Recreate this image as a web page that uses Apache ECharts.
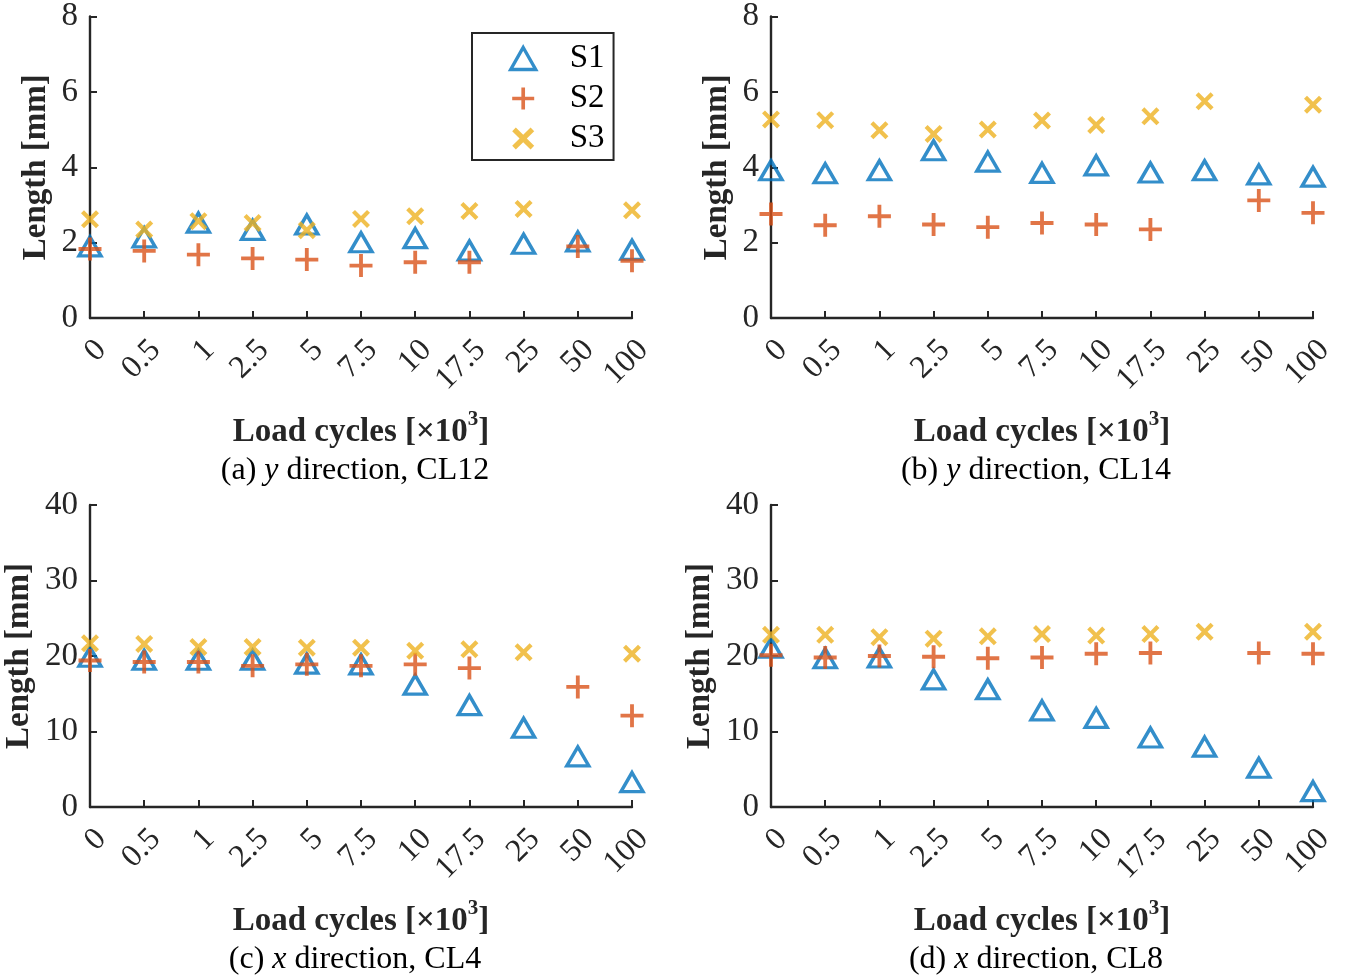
<!DOCTYPE html>
<html>
<head>
<meta charset="utf-8">
<title>Crack length vs load cycles</title>
<script src="https://cdn.jsdelivr.net/npm/echarts@6/dist/echarts.min.js"></script>
<style>
  html, body { margin: 0; padding: 0; background: #fff; }
  #chart { width: 1354px; height: 980px; }
</style>
</head>
<body>
<div id="chart"></div>
<script>
// Load cycles (×10^3) shared by all four panels
const cycles = ['0', '0.5', '1', '2.5', '5', '7.5', '10', '17.5', '25', '50', '100'];

// (a) y direction, CL12
const a_S1 = [1.9, 2.14, 2.53, 2.34, 2.48, 2.01, 2.12, 1.79, 1.97, 2.03, 1.81];
const a_S2 = [1.83, 1.78, 1.68, 1.58, 1.55, 1.39, 1.48, 1.48, null, 1.9, 1.52];
const a_S3 = [2.62, 2.35, 2.57, 2.52, 2.33, 2.63, 2.7, 2.84, 2.89, null, 2.86];

// (b) y direction, CL14
const b_S1 = [3.92, 3.84, 3.92, 4.45, 4.15, 3.85, 4.05, 3.86, 3.92, 3.81, 3.75];
const b_S2 = [2.76, 2.46, 2.7, 2.48, 2.41, 2.52, 2.48, 2.35, null, 3.12, 2.79];
const b_S3 = [5.27, 5.25, 4.98, 4.88, 5.0, 5.24, 5.12, 5.35, 5.75, null, 5.66];

// (c) x direction, CL4
const c_S1 = [19.9, 19.5, 19.5, 19.5, 19.0, 18.9, 16.2, 13.5, 10.5, 6.7, 3.3];
const c_S2 = [19.4, 19.2, 19.2, 18.7, 18.9, 18.7, 18.9, 18.4, null, 15.9, 12.1];
const c_S3 = [21.7, 21.6, 21.2, 21.2, 21.1, 21.1, 20.7, 20.9, 20.5, null, 20.3];

// (d) x direction, CL8
const d_S1 = [21.1, 19.7, 19.8, 16.9, 15.6, 12.8, 11.8, 9.2, 8.0, 5.2, 2.1];
const d_S2 = [20.1, 19.8, 20.0, 19.9, 19.7, 19.8, 20.3, 20.4, null, 20.4, 20.3];
const d_S3 = [22.8, 22.8, 22.5, 22.3, 22.6, 22.9, 22.7, 22.9, 23.2, null, 23.2];

const seriesNames = ['S1', 'S2', 'S3'];
const panelTitles = [
  ['(a) ', 'y', ' direction, CL12'],
  ['(b) ', 'y', ' direction, CL14'],
  ['(c) ', 'x', ' direction, CL4'],
  ['(d) ', 'x', ' direction, CL8']
];
const yRanges = [[0, 8, 2], [0, 8, 2], [0, 40, 10], [0, 40, 10]];

const panelData = [
  [a_S1, a_S2, a_S3],
  [b_S1, b_S2, b_S3],
  [c_S1, c_S2, c_S3],
  [d_S1, d_S2, d_S3]
];

const FONT = '"Liberation Serif", "Times New Roman", serif';
const INK = '#262626';
const COLORS = ['#0072BD', '#D95319', '#EDB120'];

// Marker outlines: plus and cross drawn as filled strokes
const PLUS = 'path://M10,0H14V10H24V14H14V24H10V14H0V10H10Z';
const CROSS = 'path://M0,3.3L3.3,0L10,6.7L16.7,0L20,3.3L13.3,10L20,16.7L16.7,20L10,13.3L3.3,20L0,16.7L6.7,10Z';

const markerStyles = [
  { symbol: 'triangle', symbolSize: [22, 19],
    itemStyle: { color: 'rgba(255,255,255,0)', borderColor: COLORS[0], borderWidth: 3.4 } },
  { symbol: PLUS, symbolSize: 23, itemStyle: { color: COLORS[1] } },
  { symbol: CROSS, symbolSize: 18, itemStyle: { color: COLORS[2] } }
];

const grids = [
  { left: 90, top: 15, width: 542, height: 303 },
  { left: 771, top: 15, width: 542, height: 303 },
  { left: 90, top: 505, width: 542, height: 302 },
  { left: 771, top: 505, width: 542, height: 302 }
];

const xAxes = grids.map((g, i) => ({
  type: 'category',
  gridIndex: i,
  data: cycles,
  boundaryGap: false,
  name: '{b|Load cycles [×10}{s|3}{b|]}',
  nameLocation: 'middle',
  nameGap: 91,
  nameTextStyle: {
    rich: {
      b: { fontFamily: FONT, fontWeight: 'bold', fontSize: 33, color: INK, lineHeight: 46 },
      s: { fontFamily: FONT, fontWeight: 'bold', fontSize: 21, color: INK, lineHeight: 20, verticalAlign: 'top' }
    }
  },
  axisLine: { lineStyle: { color: INK, width: 2.4 } },
  axisTick: { inside: true, length: 7, alignWithLabel: true, lineStyle: { color: INK, width: 2 } },
  axisLabel: {
    rotate: 45, margin: 16, interval: 0, verticalAlign: 'top',
    fontFamily: FONT, fontSize: 32, color: INK
  },
  splitLine: { show: false }
}));

const yAxes = grids.map((g, i) => ({
  type: 'value',
  gridIndex: i,
  min: yRanges[i][0], max: yRanges[i][1], interval: yRanges[i][2],
  name: 'Length [mm]',
  nameLocation: 'middle',
  nameRotate: 90,
  nameGap: i < 2 ? 37 : 54,
  nameTextStyle: { fontFamily: FONT, fontWeight: 'bold', fontSize: 33, color: INK },
  axisLine: { show: true, lineStyle: { color: INK, width: 2.4 } },
  axisTick: { show: true, inside: true, length: 7, lineStyle: { color: INK, width: 2 } },
  axisLabel: { margin: 12, fontFamily: FONT, fontSize: 33, color: INK },
  splitLine: { show: false }
}));

const series = [];
panelData.forEach((sets, p) => {
  sets.forEach((vals, k) => {
    series.push(Object.assign({
      type: 'scatter',
      name: seriesNames[k],
      xAxisIndex: p,
      yAxisIndex: p,
      data: vals,
      z: 3 + k,
      emphasis: { disabled: true }
    }, markerStyles[k]));
  });
});

// Panel captions under each x-axis title
const captions = panelTitles.map((t, i) => ({
  type: 'text',
  x: grids[i].left + grids[i].width / 2 - 6,
  y: grids[i].top + grids[i].height + 153,
  style: {
    text: '{n|' + t[0] + '}{i|' + t[1] + '}{n|' + t[2] + '}',
    align: 'center',
    verticalAlign: 'middle',
    rich: {
      n: { fontFamily: FONT, fontSize: 32, fill: '#000' },
      i: { fontFamily: FONT, fontSize: 32, fontStyle: 'italic', fill: '#000' }
    }
  }
}));

const option = {
  backgroundColor: '#fff',
  animation: false,
  grid: grids,
  xAxis: xAxes,
  yAxis: yAxes,
  legend: {
    orient: 'vertical',
    left: 472,
    top: 33,
    width: 139,
    padding: [9, 9, 5, 37],
    itemGap: 7,
    itemWidth: 25,
    itemHeight: 22,
    borderColor: INK,
    borderWidth: 2,
    backgroundColor: '#fff',
    selectedMode: false,
    textStyle: { fontFamily: FONT, fontSize: 33, color: '#000', lineHeight: 30, padding: [0, 0, 0, 29] },
    data: [
      { name: 'S1', icon: 'triangle', itemStyle: { color: 'rgba(255,255,255,0)', borderColor: COLORS[0], borderWidth: 3.4 } },
      { name: 'S2', icon: PLUS, itemStyle: { color: COLORS[1] } },
      { name: 'S3', icon: CROSS, itemStyle: { color: COLORS[2] } }
    ]
  },
  graphic: captions,
  series: series
};

const chart = echarts.init(document.getElementById('chart'), null, { renderer: 'canvas' });
chart.setOption(option);
</script>
</body>
</html>
